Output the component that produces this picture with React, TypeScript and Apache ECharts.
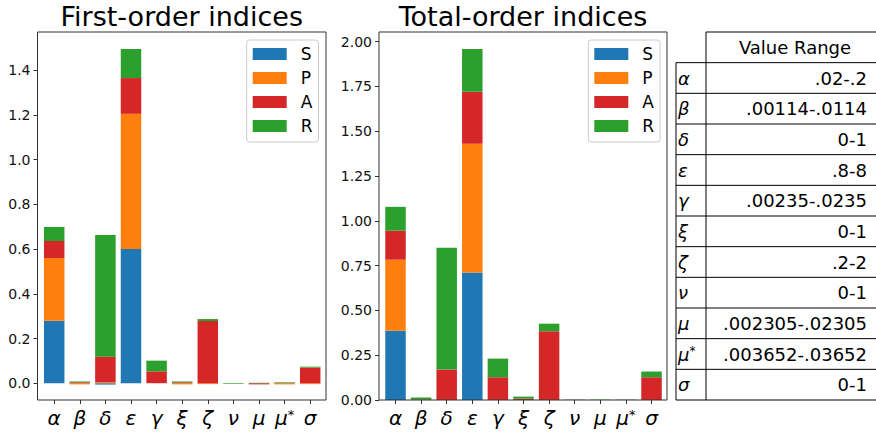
import React, { useEffect, useRef } from 'react';
import * as echarts from 'echarts';

const categories = ['α', 'β', 'δ', 'ε', 'γ', 'ξ', 'ζ', 'ν', 'μ', 'μ*', 'σ'];
const seriesNames = ['S', 'P', 'A', 'R'];
const seriesColors = ['#1f77b4', '#ff7f0e', '#d62728', '#2ca02c'];

// First-order indices
const firstS = [0.279, 0.0, -0.006, 0.6, 0.0, 0.0, 0.0, 0.0, 0.0, 0.0, 0.0];
const firstP = [0.281, -0.005, 0.004, 0.605, 0.0, -0.005, -0.004, 0.0, 0.0, -0.005, -0.004];
const firstA = [0.076, 0.004, 0.115, 0.16, 0.053, 0.004, 0.278, 0.0, -0.005, 0.001, 0.07];
const firstR = [0.063, 0.004, 0.544, 0.13, 0.048, 0.004, 0.009, -0.003, 0.002, 0.003, 0.004];

// Total-order indices
const totalS = [0.387, 0.0, 0.0, 0.711, 0.0, 0.0, 0.0, 0.0, 0.0, 0.0, 0.0];
const totalP = [0.396, 0.0, 0.0, 0.719, 0.0, 0.0, 0.0, 0.0, 0.0, 0.0, 0.0];
const totalA = [0.162, 0.003, 0.17, 0.29, 0.127, 0.008, 0.384, 0.0, 0.0, 0.0, 0.127];
const totalR = [0.133, 0.011, 0.68, 0.239, 0.104, 0.011, 0.042, 0.002, 0.002, 0.002, 0.032];

const yTicksFirst = [0, 0.2, 0.4, 0.6, 0.8, 1.0, 1.2, 1.4];
const yTicksTotal = [0, 0.25, 0.5, 0.75, 1.0, 1.25, 1.5, 1.75, 2.0];

const titles = ['First-order indices', 'Total-order indices'];
const tableHeader = 'Value Range';
const tableParams = ['α', 'β', 'δ', 'ε', 'γ', 'ξ', 'ζ', 'ν', 'μ', 'μ*', 'σ'];
const tableRanges = ['.02-.2', '.00114-.0114', '0-1', '.8-8', '.00235-.0235', '0-1', '.2-2', '0-1', '.002305-.02305', '.003652-.03652', '0-1'];

const FONT = 'DejaVu Sans';

const greekRich = (size: number, supSize: number) => ({
  g: { fontSize: size, fontStyle: 'italic', fontFamily: FONT, color: '#000' },
  s: { fontSize: supSize, fontFamily: FONT, color: '#000', verticalAlign: 'top' },
});

const greekText = (c: string) => (c === 'μ*' ? '{g|μ}{s|*}' : '{g|' + c + '}');

export default function App() {
  const ref = useRef<HTMLDivElement>(null);
  useEffect(() => {
    if (!ref.current) return;
    const chart = echarts.init(ref.current, undefined, { renderer: 'svg' });

    // visible axes frames
    const frames = [
      { x: 37.5, y: 32, w: 288.5, h: 368 },
      { x: 379, y: 32, w: 288, h: 368 },
    ];
    // plotting bands (category area) inside each frame
    const band = 25.6;
    const bandLeft = [41.4, 382.7];
    const grids = bandLeft.map((l, i) => ({
      left: l,
      top: frames[i].y,
      width: band * categories.length,
      height: frames[i].h,
    }));

    const xAxisBase = (gridIndex: number) => ({
      type: 'category',
      gridIndex,
      data: categories,
      boundaryGap: true,
      axisLine: { show: false, onZero: false },
      splitLine: { show: false },
      axisTick: { show: true, inside: false, length: 4, alignWithLabel: true, lineStyle: { color: '#333' } },
      axisLabel: {
        interval: 0,
        margin: 8,
        formatter: (v: string) => greekText(v),
        rich: greekRich(20, 13),
      },
    });

    const yAxisBase = (gridIndex: number, min: number, max: number, ticks: number[], dec: number, offset: number) => ({
      type: 'value',
      gridIndex,
      min,
      max,
      offset,
      axisLine: { show: false, onZero: false },
      splitLine: { show: false },
      axisTick: { show: true, inside: false, length: 4, customValues: ticks, lineStyle: { color: '#333' } },
      axisLabel: {
        customValues: ticks,
        margin: 7,
        fontSize: 14,
        fontFamily: FONT,
        color: '#111',
        formatter: (v: number) => v.toFixed(dec),
      },
    });

    const firstData = [firstS, firstP, firstA, firstR];
    const totalData = [totalS, totalP, totalA, totalR];

    const mkSeries = (data: number[][], idx: number, stack: string) =>
      data.map((vals, k) => ({
        type: 'bar',
        name: seriesNames[k],
        xAxisIndex: idx,
        yAxisIndex: idx,
        stack,
        barWidth: 20.5,
        itemStyle: { color: seriesColors[k] },
        data: vals,
      }));

    const legendBase = (left: number) => ({
      show: true,
      orient: 'vertical',
      left,
      top: 40,
      data: seriesNames,
      selectedMode: false,
      icon: 'rect',
      itemWidth: 34,
      itemHeight: 12,
      itemGap: 7,
      padding: [5.5, 6, 7.5, 6],
      backgroundColor: 'rgba(255,255,255,0.8)',
      borderColor: '#cccccc',
      borderWidth: 1,
      borderRadius: 3,
      textStyle: { fontSize: 17, lineHeight: 17, fontFamily: FONT, color: '#000', padding: [0, 0, 0, 9] },
    });

    const graphics: any[] = [];
    frames.forEach((f) => {
      graphics.push({
        type: 'rect',
        z: 10,
        shape: { x: f.x, y: f.y, width: f.w, height: f.h },
        style: { fill: 'none', stroke: '#333', lineWidth: 1 },
      });
    });

    // table graphics
    const rowH = 368 / 12;
    const tTop = 32;
    const tBottom = 400;
    const colL = 676;
    const colM = 706;
    const colR = 880;
    graphics.push({ type: 'line', shape: { x1: colM, y1: tTop, x2: colR, y2: tTop }, style: { stroke: '#000', lineWidth: 1 } });
    graphics.push({ type: 'line', shape: { x1: colM, y1: tTop, x2: colM, y2: tBottom }, style: { stroke: '#000', lineWidth: 1 } });
    graphics.push({ type: 'line', shape: { x1: colL, y1: tTop + rowH, x2: colL, y2: tBottom }, style: { stroke: '#000', lineWidth: 1 } });
    for (let k = 0; k <= tableParams.length; k++) {
      const y = tTop + rowH * (k + 1);
      graphics.push({ type: 'line', shape: { x1: colL, y1: y, x2: colR, y2: y }, style: { stroke: '#000', lineWidth: 1 } });
    }
    graphics.push({
      type: 'text',
      x: 795,
      y: tTop + rowH / 2,
      style: { text: tableHeader, fontSize: 18, fontFamily: FONT, fill: '#000', align: 'center', verticalAlign: 'middle' },
    });
    tableParams.forEach((p, i) => {
      const cy = tTop + rowH * (i + 1.5);
      graphics.push({
        type: 'text',
        x: 678,
        y: cy,
        style: { text: greekText(p), rich: greekRich(18, 12), align: 'left', verticalAlign: 'middle' },
      });
      graphics.push({
        type: 'text',
        x: 867,
        y: cy,
        style: { text: tableRanges[i], fontSize: 18, fontFamily: FONT, fill: '#000', align: 'right', verticalAlign: 'middle' },
      });
    });
    // titles
    const titleX = frames.map((f) => f.x + f.w / 2);
    titles.forEach((t, i) => {
      graphics.push({
        type: 'text',
        x: titleX[i],
        y: 16,
        style: { text: t, fontSize: 27, fontFamily: FONT, fill: '#000', align: 'center', verticalAlign: 'middle' },
      });
    });

    chart.setOption({
      animation: false,
      backgroundColor: '#ffffff',
      grid: grids.map((g) => ({ ...g, show: false, containLabel: false })),
      xAxis: [xAxisBase(0), xAxisBase(1)],
      yAxis: [
        yAxisBase(0, -0.075, 1.571, yTicksFirst, 1, bandLeft[0] - frames[0].x),
        yAxisBase(1, 0, 2.054, yTicksTotal, 2, bandLeft[1] - frames[1].x),
      ],
      legend: [legendBase(246.7), legendBase(588.3)],
      series: [...mkSeries(firstData, 0, 'first'), ...mkSeries(totalData, 1, 'total')],
      graphic: graphics,
    });
    return () => chart.dispose();
  }, []);
  return <div ref={ref} style={{ position: 'fixed', left: 0, top: 0, width: 876, height: 432 }} />;
}
